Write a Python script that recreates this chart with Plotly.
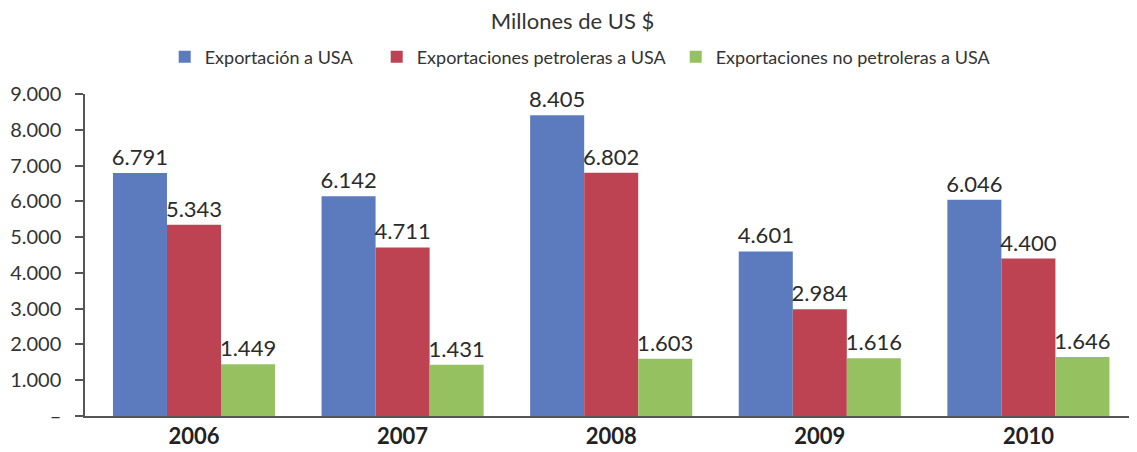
import plotly.graph_objs as go

# data (millions of US $)
years = ["2006", "2007", "2008", "2009", "2010"]
export_total = [6791, 6142, 8405, 4601, 6046]
export_oil = [5343, 4711, 6802, 2984, 4400]
export_non_oil = [1449, 1431, 1603, 1616, 1646]

series_names = ["Exportación a USA", "Exportaciones petroleras a USA",
                "Exportaciones no petroleras a USA"]
series_colors = ["#5B7BBE", "#BE4352", "#95C160"]
legend_widths = [167, 254, 280]

y_tickvals = [0, 1000, 2000, 3000, 4000, 5000, 6000, 7000, 8000, 9000]
y_ticktext = ["–", "1.000", "2.000", "3.000", "4.000", "5.000",
              "6.000", "7.000", "8.000", "9.000"]

FONT = "Lato"


def fmt(v):
    return f"{v:,}".replace(",", ".")


data = []
for name, vals, color, lw in zip(series_names,
                                 [export_total, export_oil, export_non_oil],
                                 series_colors, legend_widths):
    data.append(go.Bar(
        x=years,
        y=vals,
        name=name,
        legendwidth=lw,
        marker=dict(color=color, line=dict(width=0)),
        text=[fmt(v) for v in vals],
        textposition="outside",
        constraintext="none",
        cliponaxis=False,
        outsidetextfont=dict(family=FONT, size=22, color="#2b2b2b"),
    ))

# the page body adds 8px around the figure, so the figure is 8px smaller
layout = go.Layout(
    width=1129,
    height=444,
    barmode="group",
    bargap=0.223,
    bargroupgap=0,
    plot_bgcolor="white",
    paper_bgcolor="white",
    margin=dict(l=77, r=2, t=86, b=36),
    title=dict(text="Millones de US $", x=0.5, xanchor="center",
               y=0.97, yanchor="middle",
               font=dict(family=FONT, size=22, color="#333333")),
    legend=dict(orientation="h", x=0.474, xanchor="center", y=1.115,
                yanchor="middle", font=dict(family=FONT, size=18, color="#333333"),
                itemwidth=30),
    xaxis=dict(
        type="category",
        range=[-0.5225, 4.511],
        showline=True, linecolor="#555555", linewidth=1.5,
        ticks="", showgrid=False,
        tickfont=dict(family=FONT, size=22, color="#222222", weight="bold"),
    ),
    yaxis=dict(
        range=[0, 9000],
        tickvals=y_tickvals,
        ticktext=y_ticktext,
        showline=True, linecolor="#555555", linewidth=1.5,
        ticks="outside", ticklen=8, tickcolor="#555555", tickwidth=1.5,
        showgrid=False, zeroline=False,
        tickfont=dict(family=FONT, size=20, color="#333333"),
        ticklabelstandoff=10,
    ),
)

fig = go.Figure(data=data, layout=layout)
fig.write_html("out.html")
